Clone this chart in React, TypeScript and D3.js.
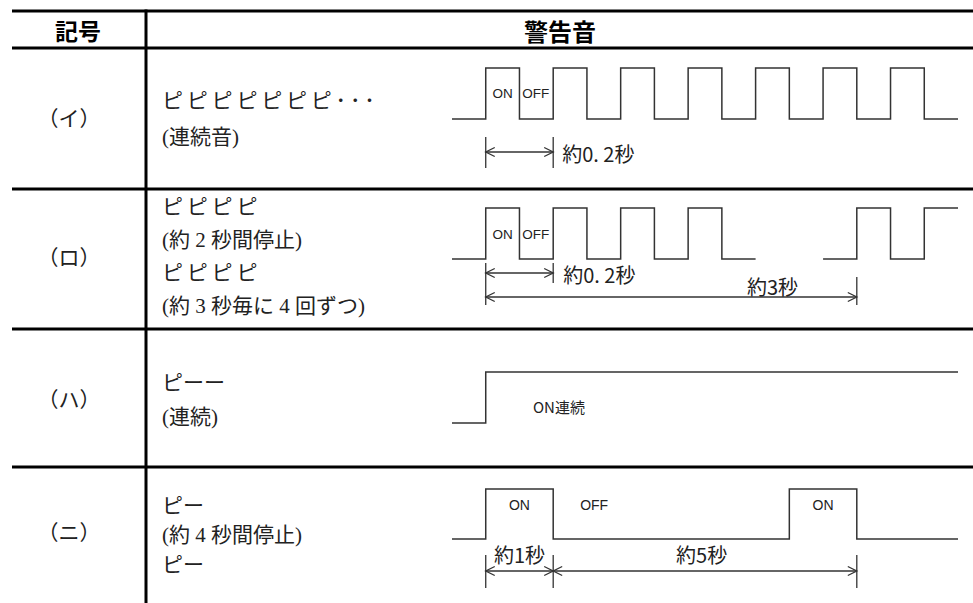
import React from "react";
import * as d3 from "d3";

// ---------- data ----------
const headers = ["記号", "警告音"];
const symbols = ["（イ）", "（ロ）", "（ハ）", "（ニ）"];
const descriptions = [
  ["ピピピピピピピ･･･", "(連続音)"],
  ["ピピピピ", "(約 2 秒間停止)", "ピピピピ", "(約 3 秒毎に 4 回ずつ)"],
  ["ピーー", "(連続)"],
  ["ピー", "(約 4 秒間停止)", "ピー"],
];

// waveform segments in drawing time units (1 unit = one ON width of (イ))
const waveI = [
  { from: -1, to: 14, pulses: [[0, 1], [2, 3], [4, 5], [6, 7], [8, 9], [10, 11], [12, 13]] },
];
const waveRo = [
  { from: -1, to: 8, pulses: [[0, 1], [2, 3], [4, 5], [6, 7]] },
  { from: 10, to: 14, pulses: [[11, 12], [13, 15]] },
];
const waveHa = [{ from: -1, to: 14, pulses: [[0, 15]] }];
const waveNi = [{ from: -1, to: 14, pulses: [[0, 2], [9, 11]] }];

// state labels: time unit + text
const labelsI = [
  { t: 0.2, text: "ON", anchor: "start" },
  { t: 1.08, text: "OFF", anchor: "start" },
];
const labelsRo = [
  { t: 0.2, text: "ON", anchor: "start" },
  { t: 1.08, text: "OFF", anchor: "start" },
];
const labelsHa = [{ t: 1.4, text: "ON連続", anchor: "start" }];
const labelsNi = [
  { t: 1, text: "ON", anchor: "middle" },
  { t: 2.8, text: "OFF", anchor: "start" },
  { t: 10, text: "ON", anchor: "middle" },
];

// dimension arrows
const dimsI = [{ from: 0, to: 2, label: "約0. 2秒" }];
const dimsRo = [
  { from: 0, to: 2, label: "約0. 2秒" },
  { from: 0, to: 11, label: "約3秒" },
];
const dimsNi = [
  { from: 0, to: 2, label: "約1秒" },
  { from: 2, to: 11, label: "約5秒" },
];

// ---------- layout ----------
const W = 973;
const H = 603;
const tableLeft = 12;
const colX = 146;
const topY = 11;
const headerY = 48;
const rowTops = [48, 189, 329, 467];

const x = d3.scaleLinear().domain([-1, 14]).range([452, 958]);

type Seg = { from: number; to: number; pulses: number[][] };

function wavePoints(seg: Seg): [number, number][] {
  const pts: [number, number][] = [[seg.from, 0]];
  let level = 0;
  for (const [s, e] of seg.pulses) {
    if (s >= seg.to) break;
    pts.push([s, 0], [s, 1]);
    level = 1;
    const e2 = Math.min(e, seg.to);
    pts.push([e2, 1]);
    if (e <= seg.to) {
      pts.push([e2, 0]);
      level = 0;
    }
  }
  pts.push([seg.to, level]);
  return pts;
}

const LEFT_FONT = "'Liberation Serif','Noto Sans CJK JP',serif";
const SANS = "'Liberation Sans','Noto Sans CJK JP',sans-serif";
const GOTHIC = "'Noto Sans CJK JP',sans-serif";
const WAVE = "#333";

function Wave({ segs, hi, lo }: { segs: Seg[]; hi: number; lo: number }) {
  const y = d3.scaleLinear().domain([0, 1]).range([lo, hi]);
  const line = d3
    .line<[number, number]>()
    .x((d) => x(d[0]))
    .y((d) => y(d[1]));
  return (
    <g>
      {segs.map((s, i) => (
        <path key={i} d={line(wavePoints(s)) || ""} fill="none" stroke={WAVE} strokeWidth={1.5} />
      ))}
    </g>
  );
}

function Arrow({ x1, x2, y }: { x1: number; x2: number; y: number }) {
  const a = 9;
  const b = 4.5;
  return (
    <g stroke={WAVE} strokeWidth={1.3} fill="none">
      <line x1={x1} x2={x2} y1={y} y2={y} />
      <path d={`M${x1 + a},${y - b}L${x1},${y}L${x1 + a},${y + b}`} />
      <path d={`M${x2 - a},${y - b}L${x2},${y}L${x2 - a},${y + b}`} />
    </g>
  );
}

function Tick({ t, y1, y2 }: { t: number; y1: number; y2: number }) {
  return <line x1={x(t)} x2={x(t)} y1={y1} y2={y2} stroke={WAVE} strokeWidth={1.3} />;
}

function StateLabels({
  items,
  y,
  size,
  font,
}: {
  items: { t: number; text: string; anchor: string }[];
  y: number;
  size: number;
  font: string;
}) {
  return (
    <g>
      {items.map((d, i) => (
        <text
          key={i}
          x={x(d.t)}
          y={y}
          textAnchor={d.anchor as any}
          dominantBaseline="central"
          fontFamily={font}
          fontSize={size}
          fill="#222"
        >
          {d.text}
        </text>
      ))}
    </g>
  );
}

function DimText({ tx, y, text, anchor }: { tx: number; y: number; text: string; anchor: string }) {
  return (
    <text
      x={tx}
      y={y}
      textAnchor={anchor as any}
      dominantBaseline="central"
      fontFamily={GOTHIC}
      fontSize={20}
      fill="#222"
    >
      {text}
    </text>
  );
}

const descLineYs = [
  [101, 137],
  [207, 240, 273, 306],
  [383, 417],
  [506, 535, 565],
];
const symbolYs = [119, 258, 400, 533];

export default function App() {
  return (
    <svg
      width={W}
      height={H}
      style={{ position: "absolute", left: 0, top: 0, background: "#fff" }}
    >
      <rect x={0} y={0} width={W} height={H} fill="#fff" />
      {/* table rules */}
      <g stroke="#000" strokeWidth={3}>
        <line x1={tableLeft} x2={W} y1={topY} y2={topY} />
        <line x1={tableLeft} x2={W} y1={headerY} y2={headerY} />
        {rowTops.slice(1).map((y, i) => (
          <line key={i} x1={tableLeft} x2={W} y1={y} y2={y} />
        ))}
        <line x1={colX} x2={colX} y1={topY - 1.5} y2={H} />
      </g>

      {/* headers */}
      <text x={78} y={30} textAnchor="middle" dominantBaseline="central" fontFamily={GOTHIC} fontWeight={700} fontSize={23}>
        {headers[0]}
      </text>
      <text x={560} y={30} textAnchor="middle" dominantBaseline="central" fontFamily={GOTHIC} fontWeight={700} fontSize={24}>
        {headers[1]}
      </text>

      {/* symbols and descriptions */}
      {symbols.map((s, i) => (
        <text key={i} x={69} y={symbolYs[i]} textAnchor="middle" dominantBaseline="central" fontFamily={LEFT_FONT} fontSize={21} fill="#222">
          {s}
        </text>
      ))}
      {descriptions.map((lines, i) =>
        lines.map((l, j) => (
          <text
            key={`${i}-${j}`}
            x={162}
            y={descLineYs[i][j]}
            dominantBaseline="central"
            fontFamily={LEFT_FONT}
            fontSize={21}
            letterSpacing={l.startsWith("ピピ") ? 3.8 : 0}
            fill="#222"
          >
            {l}
          </text>
        ))
      )}

      {/* Row イ */}
      <Wave segs={waveI} hi={68} lo={119} />
      <StateLabels items={labelsI} y={93} size={13.5} font={SANS} />
      <Tick t={dimsI[0].from} y1={137} y2={168} />
      <Tick t={dimsI[0].to} y1={137} y2={168} />
      <Arrow x1={x(dimsI[0].from)} x2={x(dimsI[0].to)} y={152} />
      <DimText tx={x(dimsI[0].to) + 9} y={153} text={dimsI[0].label} anchor="start" />

      {/* Row ロ */}
      <Wave segs={waveRo} hi={208} lo={259} />
      <StateLabels items={labelsRo} y={234} size={13.5} font={SANS} />
      <Tick t={dimsRo[0].from} y1={263} y2={305} />
      <Tick t={dimsRo[0].to} y1={263} y2={283} />
      <Tick t={dimsRo[1].to} y1={277} y2={305} />
      <Arrow x1={x(dimsRo[0].from)} x2={x(dimsRo[0].to)} y={273} />
      <DimText tx={x(dimsRo[0].to) + 10} y={274} text={dimsRo[0].label} anchor="start" />
      <Arrow x1={x(dimsRo[1].from)} x2={x(dimsRo[1].to)} y={297} />
      <DimText tx={x(8.5)} y={286} text={dimsRo[1].label} anchor="middle" />

      {/* Row ハ */}
      <Wave segs={waveHa} hi={372} lo={423} />
      <StateLabels items={labelsHa} y={406} size={15} font={GOTHIC} />

      {/* Row ニ */}
      <Wave segs={waveNi} hi={489} lo={539} />
      <StateLabels items={labelsNi} y={505} size={14} font={SANS} />
      {[dimsNi[0].from, dimsNi[0].to, dimsNi[1].to].map((t, i) => (
        <Tick key={i} t={t} y1={555} y2={588} />
      ))}
      <Arrow x1={x(dimsNi[0].from)} x2={x(dimsNi[0].to)} y={571} />
      <Arrow x1={x(dimsNi[1].from)} x2={x(dimsNi[1].to)} y={571} />
      <DimText tx={x(1)} y={554} text={dimsNi[0].label} anchor="middle" />
      <DimText tx={x(6.4)} y={554} text={dimsNi[1].label} anchor="middle" />
    </svg>
  );
}
